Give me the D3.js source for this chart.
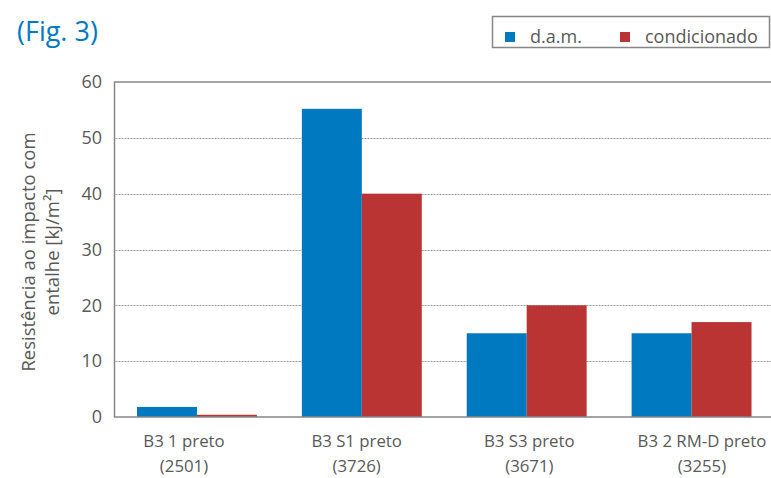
<!DOCTYPE html>
<html>
<head>
<meta charset="utf-8">
<script src="https://cdn.jsdelivr.net/npm/d3@7"></script>
<style>
  html, body { margin: 0; padding: 0; background: #fff; }
  svg { display: block; font-family: "Open Sans", "Noto Sans", sans-serif; }
</style>
</head>
<body>
<svg id="chart" width="771" height="478"></svg>
<script>
// Categories (two-line labels) and series
const categories = ["B3 1 preto", "B3 S1 preto", "B3 S3 preto", "B3 2 RM-D preto"];
const codes = ["(2501)", "(3726)", "(3671)", "(3255)"];
const seriesNames = ["d.a.m.", "condicionado"];
const damValues = [1.8, 55.2, 15.0, 15.0];
const condValues = [0.4, 40.0, 20.0, 17.0];
const yTicks = [0, 10, 20, 30, 40, 50, 60];
const seriesColors = ["#0079c1", "#ba3433"];

const svg = d3.select("#chart");
const textColor = "#595959";
const axisColor = "#868686";

const plot = { left: 114.5, right: 774, top: 82, bottom: 417 };

const x = d3.scaleBand()
  .domain(categories)
  .range([plot.left, plot.right])
  .paddingInner(0.2727)
  .paddingOuter(0.1364);

const xSub = d3.scaleBand()
  .domain(seriesNames)
  .range([0, x.bandwidth()]);

// label anchors across the category axis
const xLabel = d3.scalePoint()
  .domain(categories)
  .range([184, 702]);

const y = d3.scaleLinear().domain([0, 60]).range([plot.bottom, plot.top]);

// Title
svg.append("text")
  .attr("x", 17).attr("y", 41)
  .attr("fill", "#0079c1")
  .attr("font-size", 27)
  .text("(Fig. 3)");

// Gridlines (dotted), 10..50
svg.append("g")
  .selectAll("line")
  .data(yTicks.filter(d => d > 0 && d < 60))
  .join("line")
  .attr("x1", plot.left + 1).attr("x2", plot.right)
  .attr("y1", d => Math.round(y(d)) + 0.5)
  .attr("y2", d => Math.round(y(d)) + 0.5)
  .attr("stroke", "#9a9a9a")
  .attr("stroke-width", 1)
  .attr("stroke-dasharray", "2,1");

// Bars
const data = categories.map((c, i) => ({ cat: c, vals: [damValues[i], condValues[i]] }));
const groups = svg.append("g")
  .selectAll("g")
  .data(data)
  .join("g")
  .attr("transform", d => `translate(${x(d.cat)},0)`);

groups.selectAll("rect")
  .data(d => d.vals.map((v, j) => ({ name: seriesNames[j], v, j })))
  .join("rect")
  .attr("x", d => xSub(d.name))
  .attr("width", xSub.bandwidth())
  .attr("y", d => y(d.v))
  .attr("height", d => y(0) - y(d.v))
  .attr("fill", d => seriesColors[d.j]);

// Plot frame: left, top, bottom
const frame = svg.append("g").attr("stroke", axisColor).attr("stroke-width", 1.5).attr("fill", "none");
frame.append("path")
  .attr("d", `M${plot.right},${y(60)}H${plot.left}V${y(0)}H${plot.right}`);

// Y tick labels
svg.append("g")
  .selectAll("text")
  .data(yTicks)
  .join("text")
  .attr("x", 102)
  .attr("y", d => y(d))
  .attr("dy", "0.35em")
  .attr("text-anchor", "end")
  .attr("fill", textColor)
  .attr("font-size", 18)
  .text(d => d);

// X category labels
const xl = svg.append("g")
  .selectAll("text")
  .data(categories)
  .join("text")
  .attr("x", d => xLabel(d))
  .attr("text-anchor", "middle")
  .attr("fill", textColor)
  .attr("font-size", 16.8);
xl.append("tspan").attr("x", d => xLabel(d)).attr("y", 447).text(d => d);
xl.append("tspan").attr("x", d => xLabel(d)).attr("y", 472).text((d, i) => codes[i]);

// Y axis title
const yt = svg.append("text")
  .attr("transform", "translate(0,252) rotate(-90)")
  .attr("text-anchor", "middle")
  .attr("fill", textColor)
  .attr("font-size", 18.5);
yt.append("tspan").attr("x", 0).attr("y", 35).text("Resistência ao impacto com");
yt.append("tspan").attr("x", 0).attr("y", 59).text("entalhe [kJ/m²]");

// Legend
const legend = svg.append("g");
legend.append("rect")
  .attr("x", 492.5).attr("y", 16.5)
  .attr("width", 277).attr("height", 31)
  .attr("fill", "#fff").attr("stroke", axisColor).attr("stroke-width", 1.5);
const legendX = [505, 620];
const li = legend.selectAll("g.item")
  .data(seriesNames)
  .join("g")
  .attr("class", "item")
  .attr("transform", (d, i) => `translate(${legendX[i]},32)`);
li.append("rect")
  .attr("width", 10).attr("height", 10)
  .attr("fill", (d, i) => seriesColors[i]);
li.append("text")
  .attr("x", 25).attr("y", 5)
  .attr("dy", "0.35em")
  .attr("fill", textColor)
  .attr("font-size", 18)
  .text(d => d);
</script>
</body>
</html>
